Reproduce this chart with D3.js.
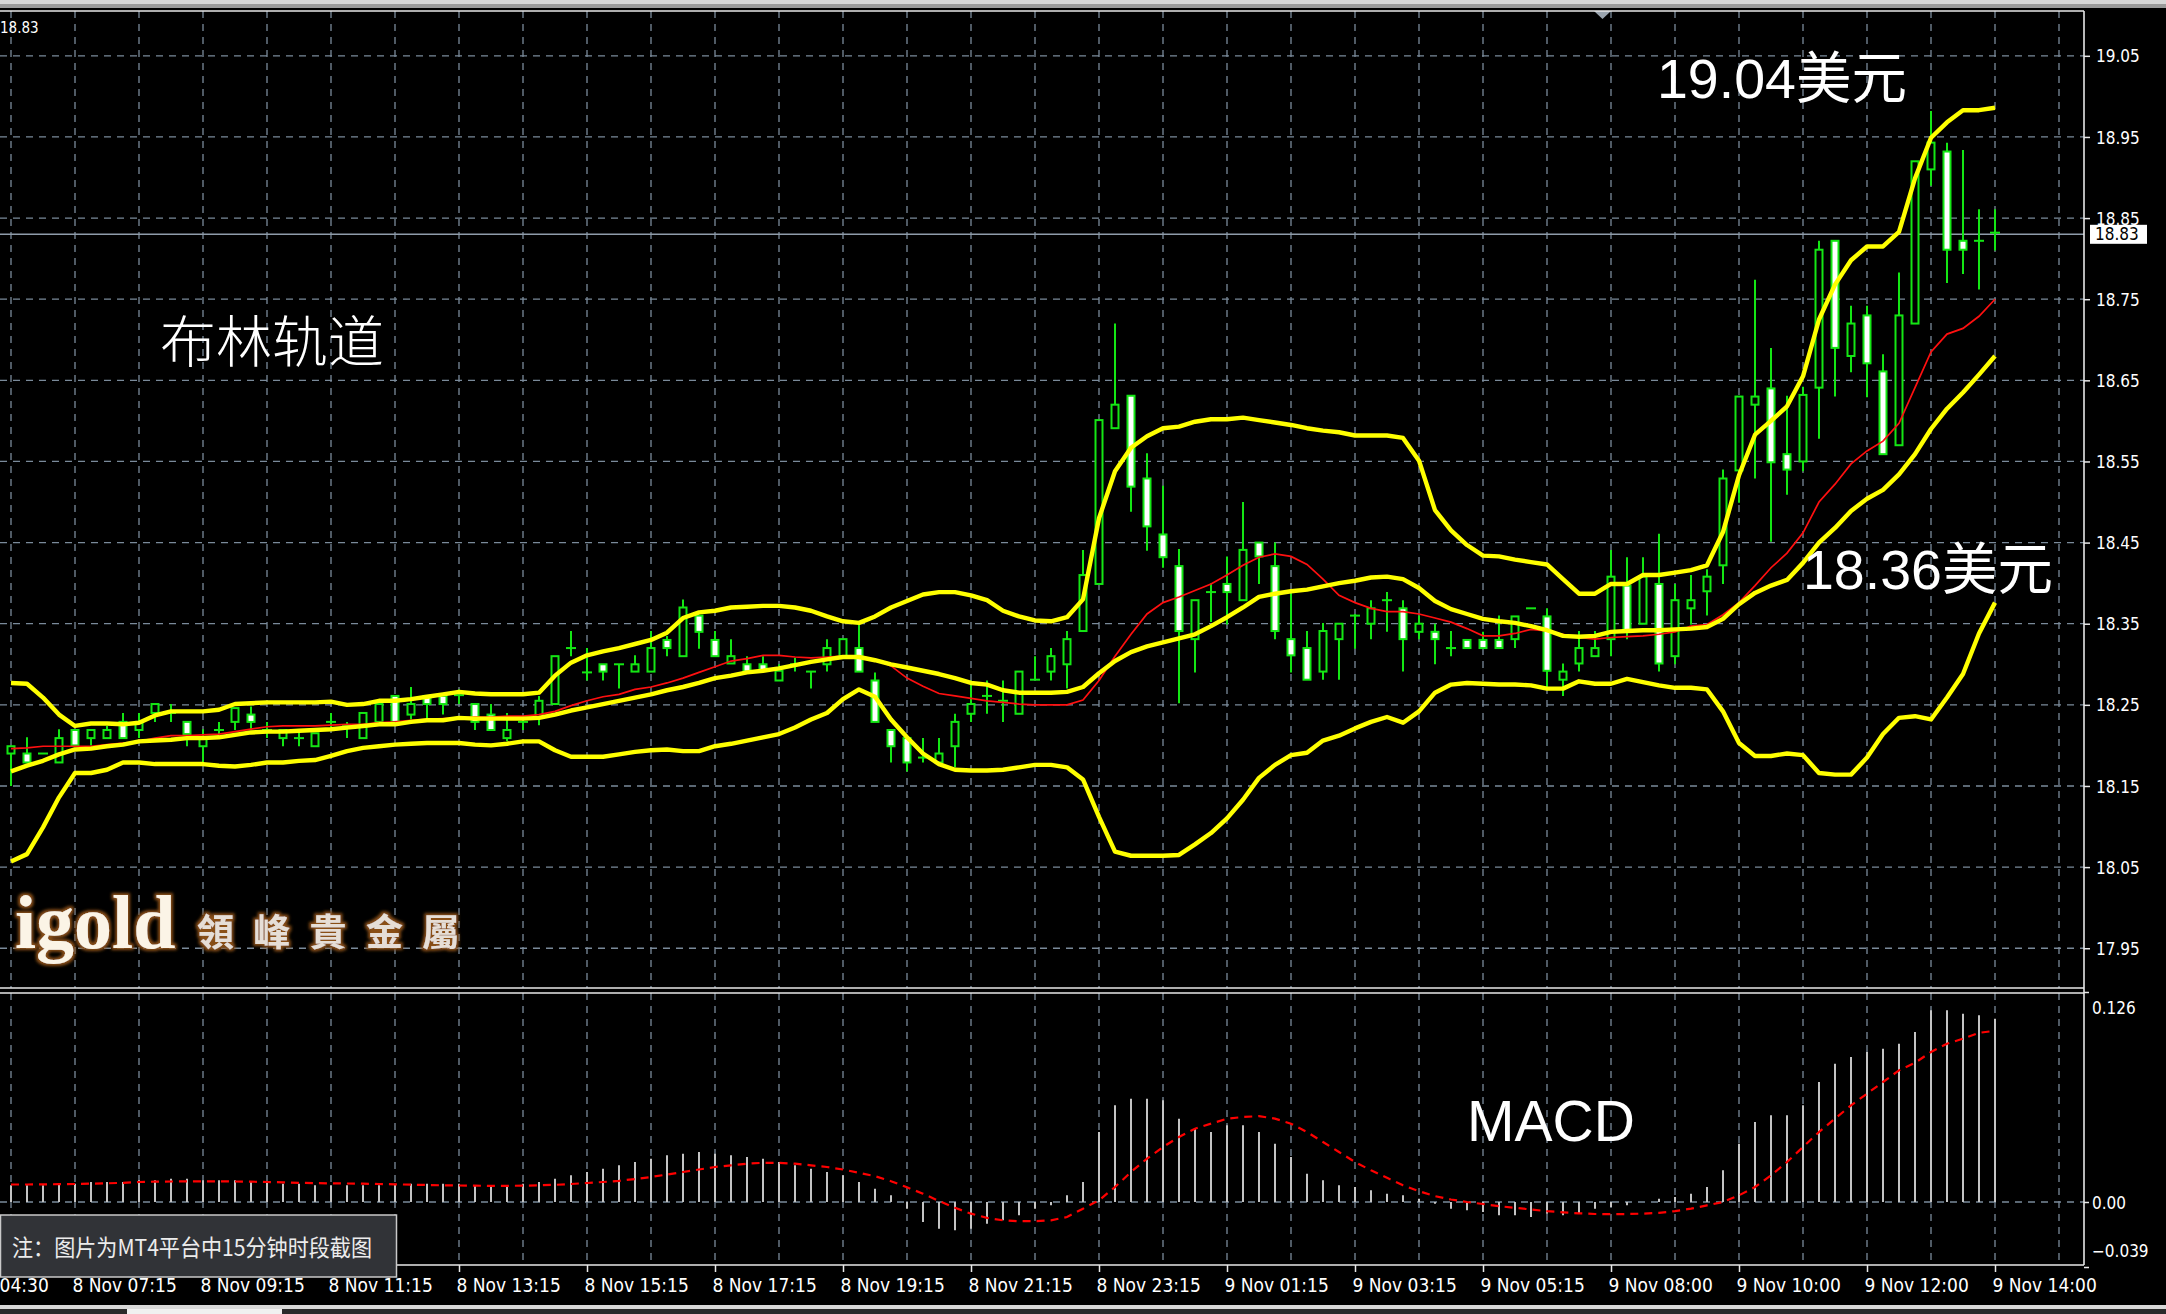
<!DOCTYPE html>
<html><head><meta charset="utf-8">
<script src="https://cdn.jsdelivr.net/npm/d3@7/dist/d3.min.js"></script>
<style>
html,body{margin:0;padding:0;background:#000;overflow:hidden}
svg{display:block}
.ax text{font-family:"DejaVu Sans Condensed","Liberation Sans Narrow","DejaVu Sans",sans-serif;font-stretch:condensed;fill:#fff}
</style></head><body>
<svg id="chart" width="2166" height="1314"></svg>
<script>
// ---------- DATA (15-minute bars, 8 Nov 04:30 … 9 Nov 14:00) ----------
const opens = [18.190,18.190,18.190,18.179,18.219,18.209,18.209,18.229,18.219,18.240,
18.240,18.229,18.199,18.219,18.229,18.238,18.219,18.209,18.209,18.199,
18.229,18.224,18.209,18.229,18.261,18.238,18.261,18.261,18.262,18.251,
18.238,18.209,18.229,18.235,18.251,18.320,18.290,18.300,18.300,18.291,
18.291,18.330,18.310,18.360,18.330,18.301,18.300,18.300,18.280,18.300,
18.291,18.300,18.310,18.320,18.280,18.219,18.209,18.185,18.179,18.199,
18.239,18.261,18.255,18.239,18.281,18.291,18.300,18.341,18.399,18.591,
18.631,18.529,18.460,18.421,18.331,18.389,18.399,18.379,18.450,18.421,
18.331,18.320,18.291,18.331,18.360,18.350,18.379,18.369,18.340,18.340,
18.320,18.330,18.330,18.330,18.331,18.369,18.359,18.281,18.301,18.310,
18.331,18.397,18.350,18.399,18.310,18.369,18.390,18.422,18.539,18.620,
18.640,18.559,18.550,18.641,18.822,18.680,18.730,18.661,18.570,18.720,
18.910,18.932,18.822,18.822,18.832];
const highs = [18.199,18.210,18.190,18.220,18.220,18.219,18.224,18.240,18.240,18.251,
18.251,18.229,18.220,18.229,18.246,18.248,18.229,18.219,18.219,18.215,
18.240,18.229,18.240,18.251,18.261,18.272,18.261,18.261,18.269,18.251,
18.251,18.240,18.236,18.261,18.310,18.341,18.320,18.300,18.300,18.311,
18.341,18.335,18.380,18.360,18.341,18.331,18.310,18.310,18.300,18.308,
18.291,18.331,18.331,18.349,18.290,18.219,18.209,18.209,18.209,18.239,
18.280,18.280,18.280,18.291,18.310,18.320,18.341,18.441,18.601,18.720,
18.631,18.560,18.520,18.442,18.379,18.400,18.433,18.500,18.450,18.450,
18.392,18.341,18.351,18.350,18.362,18.379,18.389,18.379,18.360,18.350,
18.341,18.330,18.340,18.360,18.359,18.369,18.369,18.301,18.341,18.341,
18.441,18.432,18.432,18.461,18.399,18.410,18.417,18.540,18.630,18.774,
18.690,18.631,18.642,18.822,18.822,18.742,18.742,18.682,18.783,18.920,
18.982,18.943,18.934,18.861,18.861];
const lows = [18.150,18.179,18.190,18.179,18.200,18.200,18.209,18.209,18.209,18.229,
18.229,18.199,18.177,18.214,18.219,18.219,18.209,18.199,18.199,18.199,
18.219,18.209,18.209,18.229,18.229,18.232,18.232,18.238,18.251,18.219,
18.219,18.205,18.219,18.225,18.251,18.310,18.280,18.280,18.270,18.291,
18.291,18.310,18.310,18.319,18.310,18.301,18.291,18.292,18.280,18.291,
18.270,18.291,18.310,18.291,18.229,18.179,18.168,18.179,18.179,18.173,
18.229,18.239,18.229,18.239,18.281,18.280,18.270,18.341,18.399,18.591,
18.488,18.440,18.419,18.252,18.290,18.352,18.349,18.379,18.399,18.331,
18.290,18.281,18.281,18.281,18.319,18.331,18.340,18.291,18.331,18.300,
18.310,18.320,18.320,18.320,18.320,18.369,18.271,18.261,18.291,18.310,
18.310,18.331,18.350,18.291,18.300,18.349,18.360,18.399,18.499,18.529,
18.451,18.509,18.538,18.578,18.630,18.660,18.629,18.559,18.570,18.720,
18.890,18.770,18.781,18.762,18.810];
const closes = [18.199,18.179,18.190,18.209,18.200,18.219,18.219,18.209,18.229,18.251,
18.240,18.214,18.209,18.219,18.246,18.229,18.219,18.219,18.209,18.215,
18.229,18.224,18.240,18.251,18.229,18.251,18.251,18.251,18.262,18.229,
18.219,18.219,18.229,18.255,18.310,18.320,18.290,18.291,18.300,18.300,
18.320,18.320,18.370,18.340,18.310,18.310,18.291,18.292,18.292,18.300,
18.291,18.320,18.331,18.291,18.229,18.199,18.179,18.185,18.190,18.229,
18.251,18.261,18.255,18.291,18.281,18.310,18.331,18.410,18.601,18.620,
18.519,18.470,18.432,18.341,18.379,18.389,18.389,18.441,18.433,18.341,
18.311,18.281,18.341,18.350,18.360,18.369,18.379,18.331,18.350,18.331,
18.320,18.320,18.320,18.320,18.359,18.369,18.292,18.291,18.320,18.320,
18.408,18.341,18.408,18.301,18.379,18.379,18.408,18.529,18.630,18.630,
18.549,18.540,18.632,18.811,18.690,18.720,18.671,18.559,18.730,18.920,
18.943,18.811,18.811,18.822,18.832];

const bbUpper = [18.277,18.276,18.259,18.238,18.224,18.227,18.227,18.226,18.228,18.237,
18.242,18.242,18.242,18.244,18.251,18.252,18.253,18.253,18.253,18.253,
18.254,18.250,18.251,18.255,18.255,18.257,18.260,18.263,18.266,18.264,
18.263,18.263,18.263,18.265,18.286,18.302,18.311,18.316,18.320,18.325,
18.330,18.339,18.357,18.364,18.366,18.370,18.371,18.372,18.372,18.370,
18.366,18.359,18.353,18.351,18.359,18.370,18.378,18.386,18.389,18.389,
18.385,18.379,18.366,18.359,18.354,18.353,18.358,18.380,18.480,18.538,
18.567,18.581,18.591,18.593,18.599,18.602,18.602,18.604,18.601,18.598,
18.595,18.591,18.588,18.586,18.582,18.582,18.582,18.579,18.551,18.490,
18.465,18.447,18.434,18.433,18.429,18.426,18.423,18.405,18.387,18.387,
18.399,18.399,18.410,18.410,18.413,18.416,18.422,18.463,18.533,18.583,
18.600,18.618,18.655,18.725,18.768,18.798,18.815,18.815,18.833,18.899,
18.949,18.968,18.983,18.983,18.986];
const bbMiddle = [18.168,18.175,18.181,18.189,18.195,18.196,18.199,18.201,18.205,18.206,
18.207,18.209,18.209,18.210,18.213,18.216,18.217,18.217,18.218,18.219,
18.220,18.222,18.224,18.226,18.226,18.229,18.231,18.231,18.234,18.233,
18.233,18.233,18.233,18.234,18.238,18.243,18.247,18.251,18.255,18.259,
18.263,18.268,18.272,18.277,18.283,18.286,18.290,18.292,18.295,18.299,
18.303,18.306,18.309,18.309,18.305,18.300,18.296,18.292,18.288,18.283,
18.277,18.275,18.268,18.265,18.265,18.265,18.266,18.272,18.289,18.304,
18.315,18.322,18.327,18.332,18.337,18.347,18.358,18.370,18.383,18.387,
18.390,18.392,18.396,18.400,18.403,18.407,18.408,18.405,18.394,18.378,
18.368,18.362,18.356,18.353,18.351,18.347,18.342,18.335,18.334,18.335,
18.340,18.341,18.342,18.342,18.343,18.344,18.346,18.356,18.374,18.388,
18.397,18.404,18.425,18.450,18.468,18.489,18.504,18.515,18.534,18.559,
18.590,18.615,18.635,18.657,18.680];
const bbLower = [18.057,18.066,18.099,18.136,18.166,18.166,18.170,18.179,18.179,18.177,
18.177,18.177,18.177,18.175,18.174,18.176,18.179,18.179,18.181,18.182,
18.187,18.193,18.197,18.199,18.201,18.202,18.203,18.203,18.203,18.201,
18.200,18.202,18.205,18.205,18.194,18.186,18.186,18.186,18.189,18.192,
18.194,18.195,18.193,18.193,18.199,18.202,18.206,18.210,18.214,18.222,
18.232,18.240,18.257,18.269,18.260,18.232,18.210,18.190,18.177,18.170,
18.169,18.169,18.170,18.173,18.176,18.176,18.173,18.158,18.112,18.069,
18.064,18.064,18.064,18.065,18.078,18.092,18.110,18.133,18.160,18.176,
18.188,18.191,18.206,18.212,18.221,18.229,18.235,18.228,18.242,18.265,
18.275,18.277,18.276,18.275,18.275,18.274,18.270,18.270,18.279,18.276,
18.276,18.282,18.278,18.274,18.271,18.271,18.269,18.242,18.203,18.187,
18.187,18.190,18.188,18.166,18.164,18.164,18.185,18.214,18.234,18.236,
18.232,18.259,18.288,18.338,18.376];
const maRed = [18.196,18.197,18.199,18.199,18.199,18.199,18.201,18.203,18.205,18.209,
18.212,18.212,18.213,18.214,18.217,18.220,18.223,18.224,18.224,18.224,
18.225,18.226,18.226,18.228,18.229,18.231,18.232,18.233,18.234,18.235,
18.235,18.236,18.236,18.238,18.242,18.249,18.255,18.260,18.263,18.269,
18.272,18.277,18.283,18.290,18.297,18.304,18.307,18.311,18.311,18.309,
18.308,18.309,18.310,18.310,18.306,18.298,18.283,18.273,18.264,18.261,
18.258,18.255,18.253,18.251,18.250,18.250,18.250,18.256,18.280,18.310,
18.337,18.362,18.376,18.383,18.391,18.399,18.410,18.422,18.432,18.436,
18.433,18.423,18.405,18.385,18.376,18.369,18.365,18.365,18.362,18.357,
18.352,18.344,18.335,18.335,18.338,18.343,18.341,18.337,18.333,18.331,
18.333,18.334,18.335,18.337,18.340,18.347,18.349,18.361,18.376,18.397,
18.419,18.437,18.462,18.500,18.522,18.547,18.563,18.575,18.597,18.641,
18.685,18.707,18.714,18.729,18.750];

const macdHist = [0.010,0.010,0.010,0.011,0.011,0.012,0.012,0.012,0.013,0.013,
0.014,0.014,0.013,0.013,0.013,0.012,0.012,0.011,0.011,0.010,
0.010,0.010,0.010,0.010,0.011,0.011,0.011,0.011,0.011,0.010,
0.010,0.010,0.011,0.012,0.014,0.016,0.018,0.020,0.022,0.024,
0.026,0.028,0.029,0.030,0.029,0.028,0.027,0.026,0.024,0.022,
0.020,0.018,0.016,0.012,0.008,0.004,-0.004,-0.012,-0.016,-0.017,
-0.016,-0.013,-0.011,-0.008,-0.004,-0.002,0.004,0.012,0.042,0.058,
0.062,0.062,0.061,0.050,0.044,0.042,0.046,0.046,0.042,0.035,
0.027,0.017,0.013,0.010,0.009,0.007,0.005,0.004,0.002,-0.001,
-0.004,-0.005,-0.006,-0.008,-0.008,-0.009,-0.007,-0.008,-0.007,-0.004,
-0.003,-0.002,0.000,0.002,0.003,0.005,0.009,0.019,0.035,0.048,
0.052,0.052,0.058,0.072,0.083,0.087,0.090,0.092,0.095,0.102,
0.115,0.115,0.113,0.112,0.110];
const macdSignal = [0.0105,0.0105,0.0106,0.0107,0.0108,0.0110,0.0112,0.0115,0.0120,0.0122,
0.0123,0.0124,0.0124,0.0124,0.0123,0.0122,0.0120,0.0118,0.0115,0.0113,
0.0112,0.0111,0.0110,0.0108,0.0106,0.0104,0.0102,0.0100,0.0099,0.0098,
0.0097,0.0097,0.0098,0.0100,0.0103,0.0108,0.0114,0.0120,0.0127,0.0138,
0.0150,0.0165,0.0180,0.0195,0.0210,0.0220,0.0230,0.0235,0.0235,0.0230,
0.0220,0.0210,0.0195,0.0175,0.0155,0.0125,0.0088,0.0050,0.0006,-0.0035,
-0.0070,-0.0095,-0.0110,-0.0115,-0.0115,-0.0110,-0.0090,-0.0040,0.0010,0.0090,
0.0180,0.0260,0.0330,0.0390,0.0440,0.0470,0.0500,0.0510,0.0515,0.0500,
0.0470,0.0420,0.0360,0.0300,0.0240,0.0190,0.0145,0.0100,0.0065,0.0035,
0.0015,0.0000,-0.0012,-0.0025,-0.0035,-0.0045,-0.0055,-0.0062,-0.0068,-0.0072,
-0.0073,-0.0072,-0.0070,-0.0065,-0.0055,-0.0040,-0.0020,0.0000,0.0040,0.0090,
0.0160,0.0240,0.0330,0.0420,0.0500,0.0580,0.0650,0.0720,0.0790,0.0835,
0.0900,0.0950,0.0980,0.1015,0.1027];

const timeLabels = ["8 Nov 04:30","8 Nov 07:15","8 Nov 09:15","8 Nov 11:15","8 Nov 13:15",
"8 Nov 15:15","8 Nov 17:15","8 Nov 19:15","8 Nov 21:15","8 Nov 23:15","9 Nov 01:15",
"9 Nov 03:15","9 Nov 05:15","9 Nov 08:00","9 Nov 10:00","9 Nov 12:00","9 Nov 14:00"];
const timeLabelBars = [-4,4,12,20,28,36,44,52,60,68,76,84,92,100,108,116,124];
const priceTicks = [19.05,18.95,18.85,18.75,18.65,18.55,18.45,18.35,18.25,18.15,18.05,17.95];
const macdTicks = [0.126,0.00,-0.039];
const currentPrice = 18.83;
const noteText = "注：图片为MT4平台中15分钟时段截图";

// ---------- LAYOUT ----------
const svg = d3.select("#chart");
const W = 2166, H = 1314;
const plotR = 2084, mainT = 11, mainB = 988, macdT = 993, macdB = 1265;
const N = closes.length;
const x = d3.scaleLinear().domain([0, N - 1]).range([11, 11 + 16 * (N - 1)]);
const yMain = d3.scaleLinear().domain([17.9, 19.105]).range([988.8, 11.2]);
const yMacd = d3.scaleLinear().domain([-0.039, 0.126]).range([1267, 992]);
const lime = "#14e614", gridC = "#7a8a9a";

svg.append("rect").attr("width", W).attr("height", H).attr("fill", "#000");

const defs = svg.append("defs");
defs.append("clipPath").attr("id", "cm").append("rect").attr("x", 0).attr("y", mainT).attr("width", plotR).attr("height", mainB - mainT);
defs.append("clipPath").attr("id", "cd").append("rect").attr("x", 0).attr("y", macdT).attr("width", plotR).attr("height", macdB - macdT);
defs.append("clipPath").attr("id", "cx").append("rect").attr("x", 0).attr("y", macdB).attr("width", W).attr("height", 40);
const glow = defs.append("filter").attr("id", "glow").attr("x", "-10%").attr("y", "-30%").attr("width", "120%").attr("height", "160%");
glow.append("feMorphology").attr("operator", "dilate").attr("radius", 1.6).attr("in", "SourceAlpha").attr("result", "d");
glow.append("feGaussianBlur").attr("in", "d").attr("stdDeviation", 1.8).attr("result", "b");
glow.append("feFlood").attr("flood-color", "#8a4f18");
glow.append("feComposite").attr("in2", "b").attr("operator", "in").attr("result", "g");
const fm = glow.append("feMerge"); fm.append("feMergeNode").attr("in", "g"); fm.append("feMergeNode").attr("in", "SourceGraphic");

// top window strip
svg.append("rect").attr("x", 0).attr("y", 0).attr("width", W).attr("height", 4).attr("fill", "#d6d6d6");
svg.append("rect").attr("x", 0).attr("y", 4).attr("width", W).attr("height", 4).attr("fill", "#9a9a9a");
svg.append("path").attr("d", "M1594,11 L1611,11 L1602.5,19 Z").attr("fill", "#9aa4ae");

// ---------- GRID ----------
const gridBars = d3.range(0, 129, 4);
const gm = svg.append("g").attr("clip-path", "url(#cm)");
const gd = svg.append("g").attr("clip-path", "url(#cd)");
[[gm, mainT, mainB], [gd, macdT, macdB]].forEach(([g, t, b]) => {
  g.selectAll("line.v").data(gridBars).join("line").attr("class", "v")
    .attr("x1", d => x(d)).attr("x2", d => x(d)).attr("y1", t).attr("y2", b)
    .attr("stroke", gridC).attr("stroke-width", 1.3).attr("stroke-dasharray", "7,6");
});
gm.selectAll("line.h").data(priceTicks).join("line").attr("class", "h")
  .attr("x1", 0).attr("x2", plotR).attr("y1", d => yMain(d)).attr("y2", d => yMain(d))
  .attr("stroke", gridC).attr("stroke-width", 1.3).attr("stroke-dasharray", "7,6");
gd.append("line").attr("x1", 0).attr("x2", plotR).attr("y1", yMacd(0)).attr("y2", yMacd(0))
  .attr("stroke", gridC).attr("stroke-width", 1.3).attr("stroke-dasharray", "7,6");

// current price line
gm.append("line").attr("x1", 0).attr("x2", plotR).attr("y1", yMain(currentPrice)).attr("y2", yMain(currentPrice))
  .attr("stroke", "#8f9caa").attr("stroke-width", 1.4);

// ---------- CANDLES ----------
const idx = d3.range(N);
gm.selectAll("line.wick").data(idx).join("line").attr("class", "wick")
  .attr("x1", i => x(i)).attr("x2", i => x(i))
  .attr("y1", i => yMain(highs[i])).attr("y2", i => yMain(lows[i]))
  .attr("stroke", lime).attr("stroke-width", 2);
const bodies = idx.filter(i => Math.abs(opens[i] - closes[i]) > 0.0005);
const dojis = idx.filter(i => Math.abs(opens[i] - closes[i]) <= 0.0005);
gm.selectAll("rect.body").data(bodies).join("rect").attr("class", "body")
  .attr("x", i => x(i) - 3.5).attr("width", 7)
  .attr("y", i => yMain(Math.max(opens[i], closes[i])))
  .attr("height", i => Math.abs(yMain(opens[i]) - yMain(closes[i])))
  .attr("fill", i => closes[i] > opens[i] ? "#000" : "#fff")
  .attr("stroke", lime).attr("stroke-width", 2);
gm.selectAll("line.doji").data(dojis).join("line").attr("class", "doji")
  .attr("x1", i => x(i) - 5).attr("x2", i => x(i) + 5)
  .attr("y1", i => yMain(opens[i])).attr("y2", i => yMain(opens[i]))
  .attr("stroke", lime).attr("stroke-width", 2);

// ---------- INDICATORS ----------
const lineMain = d3.line().x((d, i) => x(i)).y(d => yMain(d));
gm.append("path").datum(maRed).attr("d", lineMain).attr("fill", "none").attr("stroke", "#ff1010").attr("stroke-width", 1.7);
[bbUpper, bbMiddle, bbLower].forEach(s =>
  gm.append("path").datum(s).attr("d", lineMain).attr("fill", "none").attr("stroke", "#ffff00").attr("stroke-width", 4.4).attr("stroke-linejoin", "round"));

// MACD
gd.selectAll("line.hist").data(idx).join("line").attr("class", "hist")
  .attr("x1", i => x(i)).attr("x2", i => x(i))
  .attr("y1", yMacd(0)).attr("y2", i => yMacd(macdHist[i]))
  .attr("stroke", "#c4c4c4").attr("stroke-width", 2);
gd.append("path").datum(macdSignal).attr("d", d3.line().x((d, i) => x(i)).y(d => yMacd(d)))
  .attr("fill", "none").attr("stroke", "#ff0000").attr("stroke-width", 2.2).attr("stroke-dasharray", "8,6");

// ---------- BORDERS ----------
const bc = "#e8e8e8";
[[0, mainT, plotR, mainT], [0, mainB, plotR, mainB], [0, macdT, plotR, macdT], [0, macdB, plotR, macdB], [plotR, mainT, plotR, macdB]]
  .forEach(([a, b, c, d]) => svg.append("line").attr("x1", a).attr("y1", b).attr("x2", c).attr("y2", d).attr("stroke", bc).attr("stroke-width", 1.6));

// ---------- AXES ----------
const ay = svg.append("g").attr("class", "ax").attr("transform", `translate(${plotR},0)`)
  .call(d3.axisRight(yMain).tickValues(priceTicks).tickSize(6).tickPadding(6).tickFormat(d3.format(".2f")));
ay.select(".domain").remove();
ay.selectAll("line").attr("stroke", bc).attr("stroke-width", 1.5);
ay.selectAll("text").attr("font-size", 17).attr("dy", "0.36em");

const am = svg.append("g").attr("class", "ax").attr("transform", `translate(${plotR},0)`)
  .call(d3.axisRight(yMacd).tickValues(macdTicks).tickSize(5).tickPadding(3).tickFormat(d => d === 0 ? "0.00" : d3.format(".3f")(d)));
am.select(".domain").remove();
am.selectAll("line").attr("stroke", bc).attr("stroke-width", 1.5);
am.selectAll("text").attr("font-size", 17).attr("dy", d => d === 0.126 ? "1.25em" : d === -0.039 ? "-0.6em" : "0.36em");

const ax = svg.append("g").attr("class", "ax").attr("transform", `translate(0,${macdB})`)
  .call(d3.axisBottom(x).tickValues(timeLabelBars).tickSize(7).tickFormat((d, i) => timeLabels[i]));
ax.select(".domain").remove();
ax.selectAll("line").attr("stroke", bc).attr("stroke-width", 1.5);
ax.selectAll("text").attr("font-size", 19).attr("text-anchor", "start").attr("x", -3).attr("y", 27).attr("dy", 0);

// current price tag
svg.append("rect").attr("x", 2090).attr("y", yMain(currentPrice) - 9.5).attr("width", 57).attr("height", 19).attr("fill", "#fff");
svg.append("text").attr("class", "ax").attr("x", 2095).attr("y", yMain(currentPrice)).attr("dy", "0.36em")
  .style("font-family", "'DejaVu Sans Condensed','DejaVu Sans',sans-serif").style("font-stretch", "condensed")
  .attr("font-size", 17).attr("fill", "#000").text(d3.format(".2f")(currentPrice));

// top-left value
svg.append("text").attr("x", 0).attr("y", 33).style("font-family", "'DejaVu Sans Condensed','DejaVu Sans',sans-serif")
  .style("font-stretch", "condensed").attr("font-size", 15).attr("fill", "#fff").text(d3.format(".2f")(currentPrice));

// ---------- ANNOTATIONS ----------
const ann = (t, px, py, fs, ff, extra) => {
  const e = svg.append("text").attr("x", px).attr("y", py).attr("font-size", fs).attr("fill", "#fff")
    .style("font-family", ff).text(t);
  if (extra) extra(e);
  return e;
};
ann("布林轨道", 160, 362, 56, "'Noto Sans CJK SC',sans-serif", e => e.attr("font-weight", 300));
ann("19.04美元", 1657, 98, 55.5, "'Liberation Sans','Noto Sans CJK SC',sans-serif");
ann("18.36美元", 1803, 589, 55.5, "'Liberation Sans','Noto Sans CJK SC',sans-serif");
ann("MACD", 1467, 1141, 57, "'Liberation Sans',sans-serif");

// watermark
svg.append("text").attr("x", 15).attr("y", 948).attr("font-size", 76).attr("font-weight", "bold")
  .style("font-family", "'Liberation Serif',serif").attr("fill", "#fbf4e6").attr("filter", "url(#glow)").text("igold");
const wm = ["領", "峰", "貴", "金", "屬"];
svg.selectAll("text.wm").data(wm).join("text").attr("class", "wm")
  .attr("x", (d, i) => 197 + i * 56.3).attr("y", 946).attr("font-size", 37).attr("font-weight", "bold")
  .style("font-family", "'Noto Sans CJK TC',sans-serif").attr("fill", "#e6ded6").attr("filter", "url(#glow)").text(d => d);

// note box
svg.append("rect").attr("x", 0.5).attr("y", 1215).attr("width", 396).attr("height", 62)
  .attr("fill", "#313337").attr("stroke", "#c9c9c9").attr("stroke-width", 1.5);
svg.append("text").attr("x", 12).attr("y", 1256).attr("font-size", 23)
  .style("font-family", "'Noto Sans CJK SC',sans-serif").attr("fill", "#ececec")
  .attr("textLength", 360).attr("lengthAdjust", "spacingAndGlyphs").text(noteText);

// bottom window strip
svg.append("rect").attr("x", 0).attr("y", 1305).attr("width", W).attr("height", 4).attr("fill", "#d8d8d8");
svg.append("rect").attr("x", 0).attr("y", 1309).attr("width", W).attr("height", 5).attr("fill", "#2a2a2a");
svg.append("rect").attr("x", 127).attr("y", 1309).attr("width", 155).attr("height", 5).attr("fill", "#f0f0f0");
</script>
</body></html>
